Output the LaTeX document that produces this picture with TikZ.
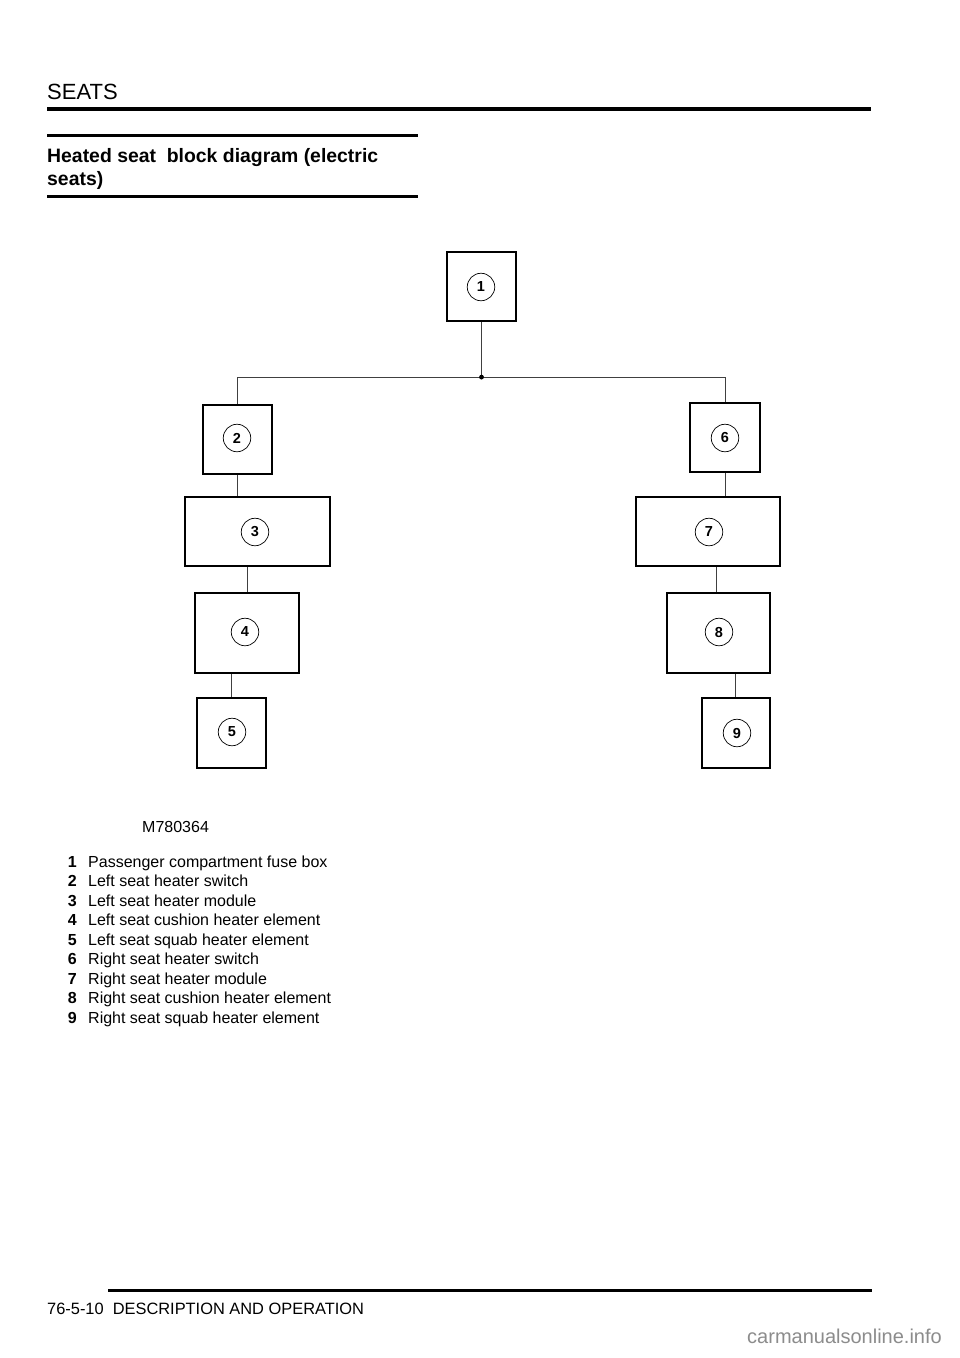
\documentclass[tikz,border=0pt]{standalone}
\usepackage{fontspec}
\setmainfont{Liberation Sans}
\usetikzlibrary{calc}
\begin{document}
\begin{tikzpicture}[x=1pt,y=-1pt,
  blk/.style={draw, line width=2.2pt, inner sep=0pt, rectangle},
  num/.style={draw, circle, line width=0.7pt, minimum size=27.5pt, inner sep=0pt,
    font=\fontsize{14.5}{15}\selectfont\bfseries},
  wire/.style={line width=0.9pt, draw=black!75},
  rulethick/.style={line width=3pt},
  legnum/.style={anchor=base east, inner sep=0pt, font=\fontsize{16}{18}\selectfont\bfseries},
  legtxt/.style={anchor=base west, inner sep=0pt, font=\fontsize{16}{18}\selectfont}]
\useasboundingbox (0,0) rectangle (960,1358);
\fill[white] (0,0) rectangle (960,1358);
% header
\node[anchor=base west, inner sep=0pt, font=\fontsize{22}{26}\selectfont] (hdr) at (47,99.5) {SEATS};
\draw[line width=3.5pt] (47,109) -- (871,109);
\draw[rulethick] (47,135.5) -- (418,135.5);
\node[anchor=base west, inner sep=0pt, font=\fontsize{19.4}{23.5}\selectfont\bfseries] (t1) at (47,162) {Heated seat\ \ block diagram (electric};
\node[anchor=base west, inner sep=0pt, font=\fontsize{19.4}{23.5}\selectfont\bfseries] (t2) at (47,185.5) {seats)};
\draw[rulethick] (47,196.5) -- (418,196.5);
% blocks
\node[blk, minimum width=69pt, minimum height=69pt] (b1) at (481.5,286.5) {};
\node[blk, minimum width=69pt, minimum height=69pt] (b2) at (237.5,439.5) {};
\node[blk, minimum width=145pt, minimum height=69pt] (b3) at (257.5,531.5) {};
\node[blk, minimum width=104pt, minimum height=80pt] (b4) at (247,633) {};
\node[blk, minimum width=69pt, minimum height=70pt] (b5) at (231.5,733) {};
\node[blk, minimum width=70pt, minimum height=69pt] (b6) at (725,437.5) {};
\node[blk, minimum width=144pt, minimum height=69pt] (b7) at (708,531.5) {};
\node[blk, minimum width=103pt, minimum height=80pt] (b8) at (718.5,633) {};
\node[blk, minimum width=68pt, minimum height=70pt] (b9) at (736,733) {};
% numbers
\node[num] (n1) at (481,287) {1};
\node[num] (n2) at (237,438) {2};
\node[num] (n3) at (255,532) {3};
\node[num] (n4) at (245,632) {4};
\node[num] (n5) at (232,732) {5};
\node[num] (n6) at (725,438) {6};
\node[num] (n7) at (709,532) {7};
\node[num] (n8) at (719,632) {8};
\node[num] (n9) at (737,733) {9};
% connectors
\coordinate (J) at ($(b1.south)+(0,55)$);
\draw[wire] (b1.south) -- (J);
\draw[wire] (b2.north) |- (J) -| (b6.north);
\fill (J) circle (2.4);
\draw[wire] (b2.south) -- (b2.south |- b3.north);
\draw[wire] (b4.north) -- (b4.north |- b3.south);
\draw[wire] (b5.north) -- (b5.north |- b4.south);
\draw[wire] (b6.south) -- (b6.south |- b7.north);
\draw[wire] ([xshift=-2.5pt]b8.north) -- ([xshift=-2.5pt]b8.north |- b7.south);
\draw[wire] ([xshift=-1pt]b9.north) -- ([xshift=-1pt]b9.north |- b8.south);
% legend
\node[anchor=base west, inner sep=0pt, font=\fontsize{16}{18}\selectfont] (code) at (142,832) {M780364};
\node[legnum] (l1n) at (77,867) {1};
\node[legtxt] (l1) at (88,867) {Passenger compartment fuse box};
\node[legnum] (l2n) at (77,886.5) {2};
\node[legtxt] (l2) at (88,886.5) {Left seat heater switch};
\node[legnum] (l3n) at (77,906) {3};
\node[legtxt] (l3) at (88,906) {Left seat heater module};
\node[legnum] (l4n) at (77,925.5) {4};
\node[legtxt] (l4) at (88,925.5) {Left seat cushion heater element};
\node[legnum] (l5n) at (77,945) {5};
\node[legtxt] (l5) at (88,945) {Left seat squab heater element};
\node[legnum] (l6n) at (77,964.5) {6};
\node[legtxt] (l6) at (88,964.5) {Right seat heater switch};
\node[legnum] (l7n) at (77,984) {7};
\node[legtxt] (l7) at (88,984) {Right seat heater module};
\node[legnum] (l8n) at (77,1003.5) {8};
\node[legtxt] (l8) at (88,1003.5) {Right seat cushion heater element};
\node[legnum] (l9n) at (77,1023) {9};
\node[legtxt] (l9) at (88,1023) {Right seat squab heater element};
% footer
\draw[line width=3.3pt] (108,1290.5) -- (872,1290.5);
\node[anchor=base west, inner sep=0pt, font=\fontsize{16.4}{18}\selectfont] (ftr) at (47,1314) {76-5-10\ \ DESCRIPTION AND OPERATION};
\node[anchor=base east, inner sep=0pt, text=black!45, font=\fontsize{20}{22}\selectfont] (wm) at (942,1343) {carmanualsonline.info};
\end{tikzpicture}
\end{document}
